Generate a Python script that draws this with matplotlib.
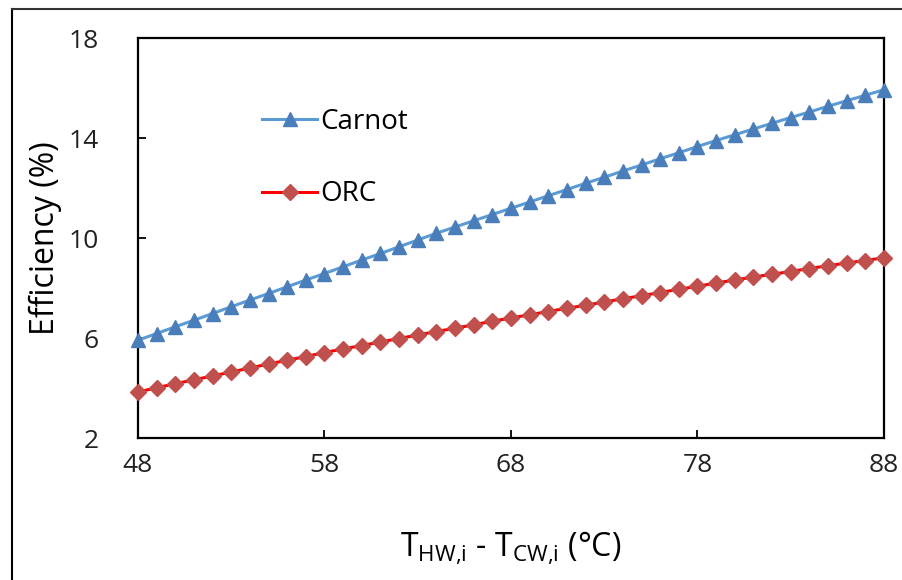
import matplotlib.pyplot as plt
from matplotlib.lines import Line2D

# temperature difference (°C), one point per degree
dT = list(range(48, 89))

carnot = [5.91, 6.18, 6.45, 6.71, 6.98, 7.25, 7.52, 7.78, 8.05, 8.32,
          8.58, 8.85, 9.12, 9.38, 9.65, 9.92, 10.19, 10.44, 10.69, 10.94,
          11.19, 11.44, 11.69, 11.94, 12.19, 12.43, 12.68, 12.92, 13.17, 13.41,
          13.66, 13.90, 14.13, 14.36, 14.59, 14.82, 15.04, 15.27, 15.49, 15.71,
          15.93]

orc = [3.84, 4.01, 4.17, 4.33, 4.48, 4.64, 4.80, 4.96, 5.11, 5.26,
       5.42, 5.56, 5.70, 5.84, 5.98, 6.12, 6.26, 6.39, 6.53, 6.67,
       6.80, 6.93, 7.06, 7.19, 7.31, 7.44, 7.57, 7.69, 7.82, 7.95,
       8.07, 8.20, 8.32, 8.44, 8.55, 8.66, 8.78, 8.89, 9.00, 9.10,
       9.21]

x_ticks = [48, 58, 68, 78, 88]
y_ticks = [2, 6, 10, 14, 18]

plt.rcParams['font.family'] = ['Open Sans', 'DejaVu Sans']
plt.rcParams['mathtext.fontset'] = 'custom'
plt.rcParams['mathtext.rm'] = 'Open Sans'

fig = plt.figure(figsize=(9.03, 5.80), dpi=100)
ax = fig.add_axes([138 / 903, 1 - 438 / 580, 746 / 903, 400 / 580])

ax.plot(dT, carnot, color='#5b9bd5', lw=2.2, marker='^', markersize=10.5,
        markerfacecolor='#4a7ebb', markeredgecolor='#4a7ebb', label='Carnot',
        clip_on=False, zorder=3)
ax.plot(dT, orc, color='#ff0000', lw=2.2, marker='D', markersize=8,
        markerfacecolor='#c0504d', markeredgecolor='#c0504d', label='ORC',
        clip_on=False, zorder=3)

ax.set_xlim(48, 88)
ax.set_ylim(2, 18)
ax.set_xticks(x_ticks)
ax.set_yticks(y_ticks)

for s in ax.spines.values():
    s.set_linewidth(1.6)
    s.set_color('black')

ax.tick_params(axis='both', direction='in', length=6, width=1.3,
               labelsize=19, colors='black')
ax.tick_params(axis='y', pad=28)
ax.tick_params(axis='x', pad=11)
for lbl in ax.get_xticklabels() + ax.get_yticklabels():
    lbl.set_color('#222222')

ax.set_ylabel('Efficiency (%)', fontsize=23, labelpad=5)
ax.set_xlabel(r'T$_{\mathregular{HW{,}i}}$ - T$_{\mathregular{CW{,}i}}$ (°C)',
              fontsize=23, labelpad=37)

ax.legend(loc='upper left', bbox_to_anchor=(0.166, 0.825), frameon=False,
          fontsize=20, handlelength=2.0, handletextpad=0.1,
          labelspacing=1.6, borderpad=0, borderaxespad=0)

# outer chart border (partly cut off on the right and bottom)
x0 = 12 / 903
y0 = 1 - 9 / 580
fig.add_artist(Line2D([x0, x0], [0, y0], color='black', lw=1.5,
                      transform=fig.transFigure))
fig.add_artist(Line2D([x0, 1], [y0, y0], color='#333333', lw=1.5,
                      transform=fig.transFigure))

fig.savefig('out.png', dpi=100)
